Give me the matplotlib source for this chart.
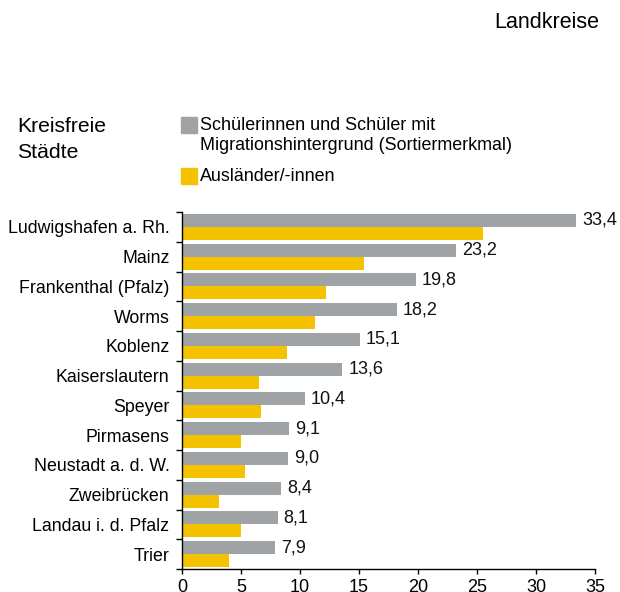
import numpy as np
import matplotlib
matplotlib.use('Agg')
import matplotlib.pyplot as plt
from matplotlib.patches import Rectangle

plt.rcParams['font.family'] = ['Liberation Sans', 'DejaVu Sans']

# Kreisfreie Städte, sortiert nach Migrationshintergrund
staedte = ['Ludwigshafen a. Rh.', 'Mainz', 'Frankenthal (Pfalz)', 'Worms', 'Koblenz',
           'Kaiserslautern', 'Speyer', 'Pirmasens', 'Neustadt a. d. W.', 'Zweibrücken',
           'Landau i. d. Pfalz', 'Trier']
migration = [33.4, 23.2, 19.8, 18.2, 15.1, 13.6, 10.4, 9.1, 9.0, 8.4, 8.1, 7.9]
auslaender = [25.5, 15.4, 12.2, 11.3, 8.9, 6.5, 6.7, 5.0, 5.3, 3.1, 5.0, 4.0]
xticks = [0, 5, 10, 15, 20, 25, 30, 35]

grau = '#a0a3a6'
gelb = '#f5c200'

W, H = 620, 592
fig = plt.figure(figsize=(W / 100, H / 100), dpi=100)
ax = fig.add_axes([182 / W, 1 - 569 / H, (595 - 182) / W, (569 - 212) / H])

y = np.arange(len(staedte))
h = 0.44
ax.barh(y - h / 2, migration, height=h, color=grau)
ax.barh(y + h / 2, auslaender, height=h, color=gelb)

for yi, v in zip(y, migration):
    ax.text(v + 0.5, yi - h / 2, f'{v:.1f}'.replace('.', ','), va='center', ha='left',
            fontsize=13, color='#111111')

ax.set_xlim(0, 35)
ax.set_ylim(len(staedte) - 0.5, -0.5)
ax.set_xticks(xticks)
ax.set_xticklabels([str(t) for t in xticks], fontsize=13)
ax.set_yticks(y)
ax.set_yticklabels(staedte, fontsize=12.8)
ax.set_yticks(np.arange(len(staedte) + 1) - 0.5, minor=True)
ax.tick_params(axis='y', which='major', length=0, pad=9)
ax.tick_params(axis='y', which='minor', length=4.5, direction='out', width=1)
ax.tick_params(axis='x', length=3.5, width=1, pad=4)
for s in ['top', 'right']:
    ax.spines[s].set_visible(False)
for s in ['left', 'bottom']:
    ax.spines[s].set_linewidth(1)
    ax.spines[s].set_color('black')

# Überschriften und Legende
fig.text(599 / W, 1 - 22 / H, 'Landkreise', ha='right', va='center', fontsize=15.5)
fig.text(17 / W, 1 - 127 / H, 'Kreisfreie', ha='left', va='center', fontsize=15.2)
fig.text(17 / W, 1 - 152 / H, 'Städte', ha='left', va='center', fontsize=15.2)

fig.patches.append(Rectangle((181 / W, 1 - 133 / H), 16 / W, 16 / H, color=grau,
                             transform=fig.transFigure, figure=fig))
fig.text(200 / W, 1 - 126 / H, 'Schülerinnen und Schüler mit', ha='left', va='center', fontsize=12.9)
fig.text(200 / W, 1 - 145 / H, 'Migrationshintergrund (Sortiermerkmal)', ha='left', va='center',
         fontsize=12.9)
fig.patches.append(Rectangle((181 / W, 1 - 184 / H), 16 / W, 16 / H, color=gelb,
                             transform=fig.transFigure, figure=fig))
fig.text(200 / W, 1 - 176 / H, 'Ausländer/-innen', ha='left', va='center', fontsize=12.9)

fig.savefig('out.png', dpi=100)
